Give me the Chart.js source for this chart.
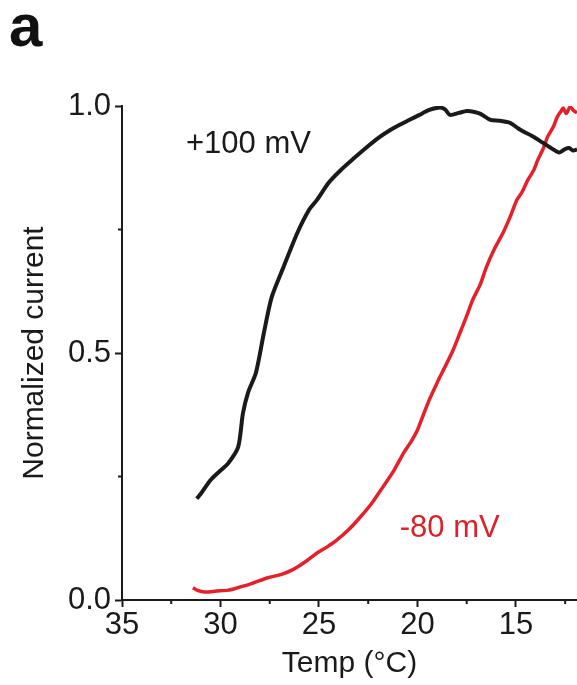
<!DOCTYPE html>
<html><head><meta charset="utf-8">
<script src="https://cdn.jsdelivr.net/npm/chart.js@4"></script>
<style>html,body{margin:0;padding:0;background:#fff}#wrap{width:577px;height:685px;position:relative}</style>
</head><body><div id="wrap"><canvas id="c"></canvas></div>
<script>
// +100 mV trace (black)
const blackTemp  = [31.2,31.0,30.5,30.0,29.6,29.1,28.86,28.6,28.2,27.8,27.4,26.8,26.1,25.5,25.1,24.5,23.9,23.2,22.56,22.0,21.4,20.9,20.4,19.9,19.4,18.86,18.6,18.35,17.9,17.5,17.1,16.8,16.3,15.8,15.3,14.9,14.6,14.2,13.8,13.3,12.8,12.5,12.3,12.1,11.9];
const blackValue = [0.205,0.215,0.243,0.262,0.277,0.31,0.378,0.42,0.46,0.54,0.613,0.674,0.743,0.79,0.81,0.845,0.87,0.895,0.917,0.935,0.951,0.962,0.972,0.982,0.992,0.997,0.993,0.982,0.986,0.99,0.988,0.984,0.972,0.97,0.966,0.955,0.948,0.94,0.93,0.917,0.906,0.913,0.915,0.91,0.912];
// -80 mV trace (red)
const redTemp  = [31.4,31.2,30.8,30.2,29.6,29.2,28.5,27.6,26.9,26.3,25.6,25.1,24.6,24.1,23.5,22.9,22.3,21.75,21.2,20.7,20.3,20.0,19.7,19.4,19.0,18.6,18.2,17.85,17.5,17.2,16.8,16.5,16.1,15.66,15.3,14.95,14.7,14.4,14.1,13.9,13.6,13.4,13.1,12.9,12.7,12.6,12.45,12.25,12.05,11.9];
const redValue = [0.025,0.02,0.016,0.018,0.02,0.024,0.032,0.045,0.052,0.062,0.08,0.095,0.107,0.121,0.142,0.168,0.197,0.229,0.262,0.298,0.322,0.344,0.375,0.405,0.44,0.472,0.505,0.54,0.575,0.607,0.64,0.674,0.71,0.743,0.775,0.81,0.825,0.85,0.87,0.89,0.915,0.937,0.958,0.978,0.99,0.996,0.985,0.998,0.99,0.986];
// ticks
const xTicks = [35,30,25,20,15];
const xMinorTicks = [32.5,27.5,22.5,17.5,12.5];
const yTicks = [0.0,0.5,1.0];
const yMinorTicks = [0.25,0.75];
const seriesLabels = ['+100 mV','-80 mV'];

const FONT = "'Liberation Sans', Arial, sans-serif";
const INK = '#1a1a1a';
const RED = '#e4202a';

const toPts = (xs, ys) => xs.map((x,i)=>({x:x, y:ys[i]}));

const extras = {
  id:'extras',
  afterDraw(chart){
    const {ctx, scales:{x, y}} = chart;
    ctx.save();
    // minor ticks
    ctx.strokeStyle = INK; ctx.lineWidth = 2;
    xMinorTicks.forEach(v=>{
      const px = x.getPixelForValue(v);
      ctx.beginPath(); ctx.moveTo(px, y.bottom); ctx.lineTo(px, y.bottom+4); ctx.stroke();
    });
    yMinorTicks.forEach(v=>{
      const py = y.getPixelForValue(v);
      ctx.beginPath(); ctx.moveTo(x.left, py); ctx.lineTo(x.left-4, py); ctx.stroke();
    });
    // series labels
    ctx.font = "31px " + FONT;
    ctx.textAlign = 'left'; ctx.textBaseline = 'alphabetic';
    ctx.fillStyle = INK;
    ctx.fillText(seriesLabels[0], x.getPixelForValue(31.75), y.getPixelForValue(0.905));
    ctx.fillStyle = '#d8232b';
    ctx.fillText(seriesLabels[1], x.getPixelForValue(20.9), y.getPixelForValue(0.128));
    // panel letter
    ctx.fillStyle = '#111';
    ctx.font = "bold 60px " + FONT;
    ctx.fillText('a', 9, 46);
    ctx.restore();
  }
};

new Chart(document.getElementById('c'), {
  type:'line',
  data:{datasets:[
    {label:seriesLabels[0], data:toPts(blackTemp, blackValue), borderColor:INK, borderWidth:4, pointRadius:0, tension:0.25, fill:false},
    {label:seriesLabels[1], data:toPts(redTemp, redValue), borderColor:RED, borderWidth:3.5, pointRadius:0, tension:0.25, fill:false}
  ]},
  options:{
    responsive:true, maintainAspectRatio:false, animation:false, devicePixelRatio:1,
    layout:{padding:{top:106,left:0,right:0,bottom:0}},
    plugins:{legend:{display:false}, tooltip:{enabled:false}},
    scales:{
      x:{type:'linear', reverse:true, min:11.9, max:35,
        afterBuildTicks:s=>{s.ticks = xTicks.map(v=>({value:v}));},
        afterFit:s=>{s.height = 85;},
        ticks:{font:{family:FONT,size:31}, color:INK, padding:0, maxRotation:0, autoSkip:false, callback:v=>String(v)},
        grid:{drawOnChartArea:false, drawTicks:true, tickLength:7, tickWidth:2, tickColor:INK},
        border:{display:true, color:INK, width:2},
        title:{display:true, text:'Temp (°C)', font:{family:FONT,size:30}, color:INK, padding:{top:0,bottom:3}}
      },
      y:{type:'linear', min:0, max:1,
        afterBuildTicks:s=>{s.ticks = yTicks.map(v=>({value:v}));},
        afterFit:s=>{s.width = 122;},
        ticks:{font:{family:FONT,size:31}, color:INK, padding:4, callback:v=>Number(v).toFixed(1)},
        grid:{drawOnChartArea:false, drawTicks:true, tickLength:7, tickWidth:2, tickColor:INK},
        border:{display:true, color:INK, width:2},
        title:{display:true, text:'Normalized current', font:{family:FONT,size:30}, color:INK, padding:{top:17,bottom:0}}
      }
    }
  },
  plugins:[extras]
});
</script>
</body></html>
